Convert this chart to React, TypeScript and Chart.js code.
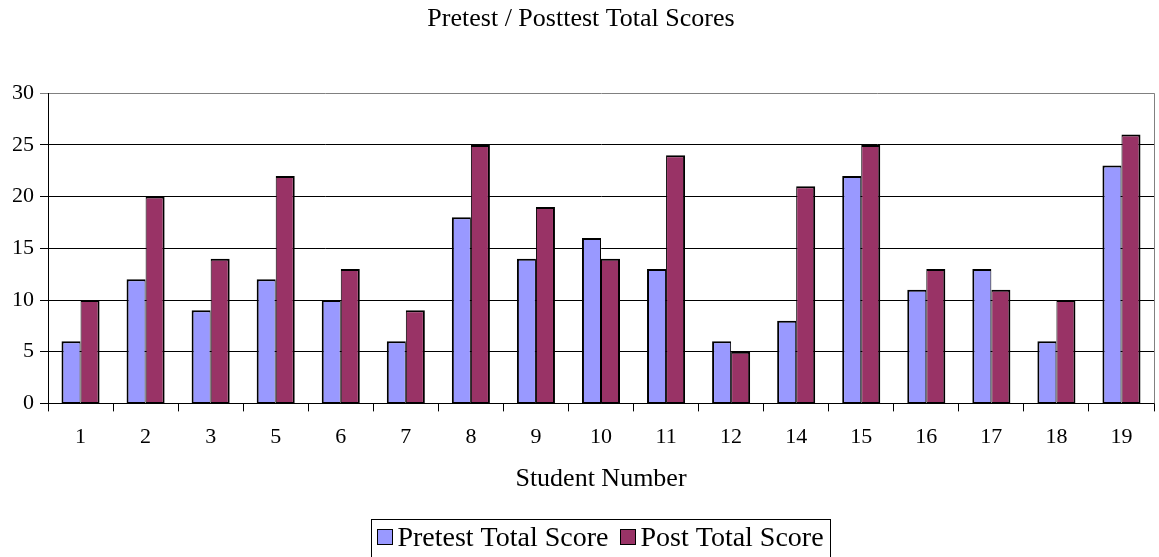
import React, { useEffect, useRef } from "react";
import { Chart, registerables } from "chart.js";

Chart.register(...registerables);

const categories = ["1", "2", "3", "5", "6", "7", "8", "9", "10", "11", "12", "14", "15", "16", "17", "18", "19"];
const pretestScores = [6, 12, 9, 12, 10, 6, 18, 14, 16, 13, 6, 8, 22, 11, 13, 6, 23];
const postScores = [10, 20, 14, 22, 13, 9, 25, 19, 14, 24, 5, 21, 25, 13, 11, 10, 26];
const yTicks = [0, 5, 10, 15, 20, 25, 30];

const SERIF = "'Liberation Serif', 'Times New Roman', serif";

const framePlugin = {
  id: "frame",
  afterDatasetsDraw(chart: any) {
    const { ctx, chartArea } = chart;
    ctx.save();
    ctx.strokeStyle = "#808080";
    ctx.lineWidth = 1;
    ctx.beginPath();
    ctx.moveTo(Math.round(chartArea.right) + 0.5, chartArea.top);
    ctx.lineTo(Math.round(chartArea.right) + 0.5, chartArea.bottom);
    ctx.stroke();
    ctx.restore();
  },
};

// Boxed legend drawn below the chart, in the style of the original
const boxedLegendPlugin = {
  id: "boxedLegend",
  afterDraw(chart: any) {
    const { ctx } = chart;
    const datasets = chart.data.datasets;
    const fontSize = 28;
    const sq = 16;
    const textGap = 4;
    const itemGap = 12;
    const centerY = 539;
    ctx.save();
    ctx.font = `${fontSize}px ${SERIF}`;
    ctx.textBaseline = "middle";
    const widths = datasets.map((d: any) => ctx.measureText(d.label).width);
    let total = 0;
    widths.forEach((w: number, i: number) => {
      total += sq + textGap + w + (i < widths.length - 1 ? itemGap : 0);
    });
    const cx = chart.width / 2 + 21;
    let x = cx - total / 2;
    ctx.strokeStyle = "#000";
    ctx.lineWidth = 1;
    ctx.strokeRect(Math.round(x - 6) + 0.5, 519.5, Math.round(total + 13), 60);
    datasets.forEach((d: any, i: number) => {
      ctx.fillStyle = d.backgroundColor;
      ctx.fillRect(Math.round(x), Math.round(centerY - sq / 2 - 2), sq, sq);
      ctx.strokeStyle = "#000";
      ctx.lineWidth = 1;
      ctx.strokeRect(Math.round(x) + 0.5, Math.round(centerY - sq / 2 - 2) + 0.5, sq - 1, sq - 1);
      ctx.fillStyle = "#000";
      ctx.fillText(d.label, x + sq + textGap, centerY);
      x += sq + textGap + widths[i] + itemGap;
    });
    ctx.restore();
  },
};

export default function App() {
  const ref = useRef<HTMLCanvasElement | null>(null);

  useEffect(() => {
    if (!ref.current) return;
    const chart = new Chart(ref.current, {
      type: "bar",
      data: {
        labels: categories,
        datasets: [
          {
            label: "Pretest Total Score",
            data: pretestScores,
            backgroundColor: "#9999FF",
            borderColor: "#000000",
            borderWidth: { top: 2, left: 2, right: 1, bottom: 1 },
            borderSkipped: false,
            categoryPercentage: 0.585,
            barPercentage: 1.0,
          },
          {
            label: "Post Total Score",
            data: postScores,
            backgroundColor: "#993366",
            borderColor: "#000000",
            borderWidth: { top: 2, left: 1, right: 2, bottom: 1 },
            borderSkipped: false,
            categoryPercentage: 0.585,
            barPercentage: 1.0,
          },
        ],
      },
      options: {
        responsive: false,
        animation: false,
        layout: { padding: { left: 8, right: 5, top: 0, bottom: 40 } },
        plugins: {
          title: {
            display: true,
            text: "Pretest / Posttest Total Scores",
            color: "#000",
            font: { family: SERIF, size: 26, weight: "normal" },
            padding: { top: 4, bottom: 58 },
          },
          legend: { display: false },
          tooltip: { enabled: false },
        },
        scales: {
          x: {
            offset: true,
            grid: {
              offset: true,
              drawOnChartArea: false,
              drawTicks: true,
              tickLength: 8,
              color: "#000",
            },
            border: { display: true, color: "#000", width: 1 },
            ticks: {
              color: "#000",
              font: { family: SERIF, size: 22 },
              padding: 13,
            },
            title: {
              display: true,
              text: "Student Number",
              color: "#000",
              font: { family: SERIF, size: 26 },
              padding: { top: 0, bottom: 22 },
            },
          },
          y: {
            min: 0,
            max: 30,
            afterBuildTicks: (scale: any) => {
              scale.ticks = yTicks.map((v) => ({ value: v }));
            },
            afterFit: (scale: any) => {
              scale.width = 40;
            },
            ticks: {
              stepSize: 5,
              color: "#000",
              font: { family: SERIF, size: 22 },
              padding: 6,
            },
            grid: {
              color: (ctx: any) => (ctx.tick && ctx.tick.value === 30 ? "#808080" : "#000"),
              tickLength: 8,
            },
            border: { display: true, color: "#000", width: 1 },
          },
        },
      },
      plugins: [framePlugin, boxedLegendPlugin],
    });
    return () => chart.destroy();
  }, []);

  return (
    <div style={{ position: "fixed", left: 0, top: 0, width: 1159, height: 557, background: "#fff" }}>
      <canvas ref={ref} width={1159} height={557} style={{ width: 1159, height: 557 }} />
    </div>
  );
}
